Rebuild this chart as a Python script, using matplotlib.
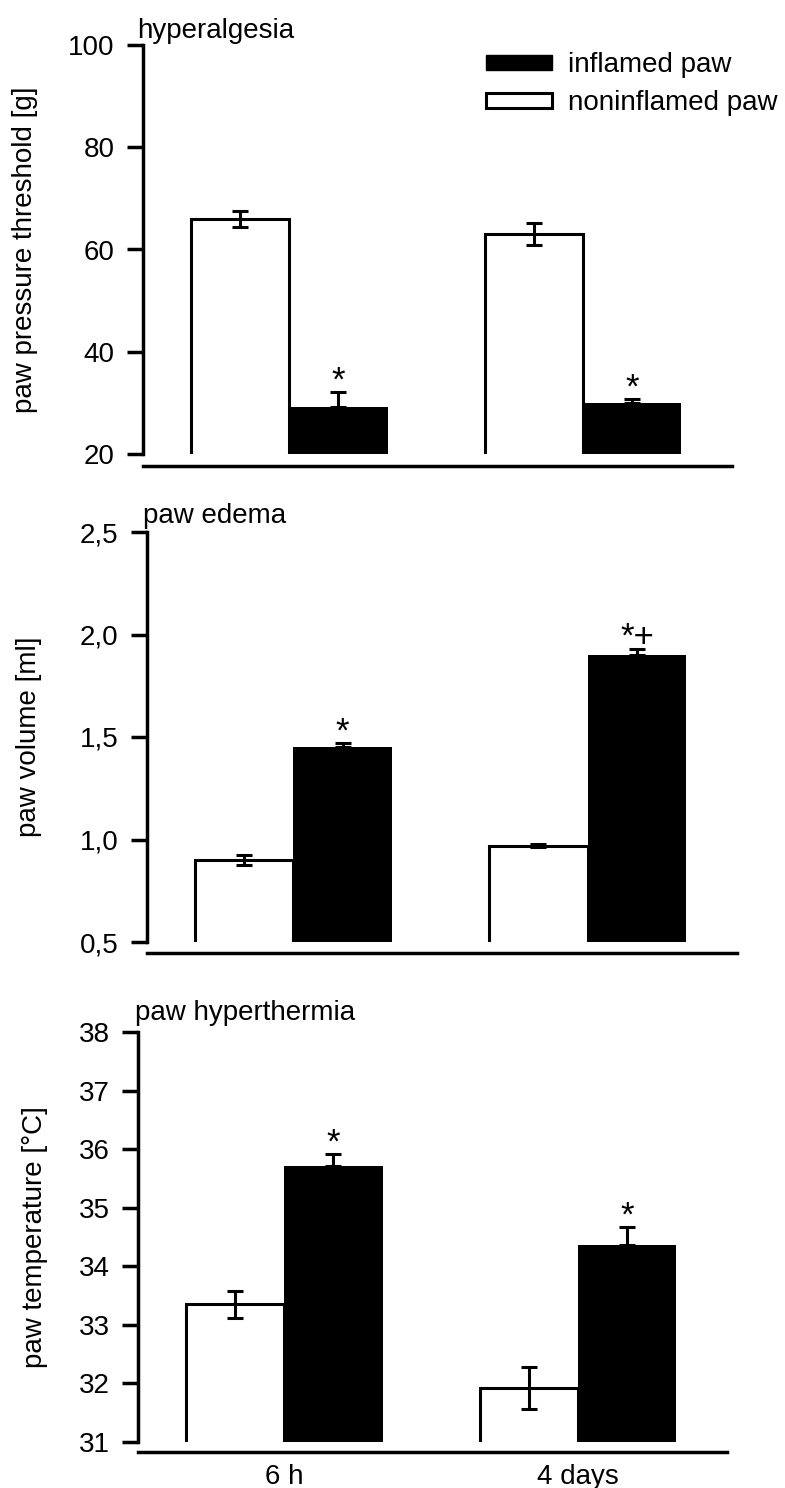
import numpy as np
import matplotlib
matplotlib.use('Agg')
import matplotlib.pyplot as plt
from matplotlib.patches import Patch

plt.rcParams['font.family'] = ['Liberation Sans', 'DejaVu Sans']
plt.rcParams['font.size'] = 20

# data
groups = ['6 h', '4 days']

hyper_non = [66.0, 63.0]
hyper_non_err = [1.6, 2.2]
hyper_inf = [29.2, 30.0]
hyper_inf_err = [3.0, 0.8]
hyper_marks = ['*', '*']

edema_non = [0.90, 0.97]
edema_non_err = [0.025, 0.008]
edema_inf = [1.45, 1.90]
edema_inf_err = [0.022, 0.03]
edema_marks = ['*', '*+']

temp_non = [33.35, 31.92]
temp_non_err = [0.23, 0.36]
temp_inf = [35.72, 34.36]
temp_inf_err = [0.20, 0.31]
temp_marks = ['*', '*']

W, H = 785, 1488
LW = 2.2


def px_axes(left, top, right, bottom):
    return [left / W, 1 - bottom / H, (right - left) / W, (bottom - top) / H]


def draw_panel(ax, non, non_err, inf, inf_err, marks, ylim, yticks, yticklabels,
               ylabel, title, outward, label_x, title_pos):
    x = np.arange(len(groups))
    w = 0.335
    ymin = ylim[0]
    xn = x - w / 2
    xi = x + w / 2

    # noninflamed: white bars, open at the bottom
    ax.bar(xn, np.array(non) - ymin, bottom=ymin, width=w, color='white',
           edgecolor='none', zorder=2)
    for xc, v in zip(xn, non):
        ax.plot([xc - w / 2, xc - w / 2, xc + w / 2, xc + w / 2], [ymin, v, v, ymin],
                color='black', lw=LW, solid_joinstyle='miter', zorder=3)
    # inflamed: black bars
    ax.bar(xi, np.array(inf) - ymin, bottom=ymin, width=w, color='black',
           edgecolor='none', zorder=2)

    ax.errorbar(xn, non, yerr=non_err, fmt='none', ecolor='black', elinewidth=LW,
                capsize=6, capthick=LW, zorder=4)
    ax.errorbar(xi, inf, yerr=[np.zeros(len(inf)), inf_err], fmt='none', ecolor='black',
                elinewidth=LW, capsize=6, capthick=LW, zorder=4)

    for xc, v, e, m in zip(xi, inf, inf_err, marks):
        ax.annotate(m, (xc, v + e), xytext=(0, 1), textcoords='offset points',
                    ha='center', va='baseline', fontsize=25)

    ax.set_xlim(-0.497, 1.507)
    ax.set_ylim(*ylim)
    ax.set_yticks(yticks)
    ax.set_yticklabels(yticklabels)
    ax.set_ylabel(ylabel, fontsize=20)
    ax.yaxis.set_label_coords(label_x, 0.5)

    for s in ['top', 'right']:
        ax.spines[s].set_visible(False)
    ax.spines['left'].set_linewidth(2.5)
    ax.spines['bottom'].set_linewidth(2.5)
    ax.spines['bottom'].set_position(('outward', outward))
    ax.tick_params(axis='y', direction='out', length=11.5, width=2.5, pad=9, labelsize=20)
    ax.tick_params(axis='x', length=0, pad=9, labelsize=20)
    ax.set_xticks([])
    ax.text(title_pos[0], title_pos[1], title, transform=ax.transAxes,
            ha='left', va='baseline', fontsize=20)
    return x


fig = plt.figure(figsize=(W / 100, H / 100), dpi=100)

ax1 = fig.add_axes(px_axes(143, 45, 732, 454))
draw_panel(ax1, hyper_non, hyper_non_err, hyper_inf, hyper_inf_err, hyper_marks,
           (20, 100), [20, 40, 60, 80, 100], ['20', '40', '60', '80', '100'],
           'paw pressure threshold [g]', 'hyperalgesia', 8.6, -0.178, (-0.01, 1.017))
handles = [Patch(facecolor='black', edgecolor='black', label='inflamed paw'),
           Patch(facecolor='white', edgecolor='black', linewidth=LW, label='noninflamed paw')]
ax1.legend(handles=handles, loc='upper left', bbox_to_anchor=(0.582, 0.982), frameon=False,
           handlelength=2.4, handleheight=0.5, handletextpad=0.55, labelspacing=0.43,
           borderpad=0, borderaxespad=0, fontsize=20)

ax2 = fig.add_axes(px_axes(147, 532, 737, 942))
draw_panel(ax2, edema_non, edema_non_err, edema_inf, edema_inf_err, edema_marks,
           (0.5, 2.5), [0.5, 1.0, 1.5, 2.0, 2.5], ['0,5', '1,0', '1,5', '2,0', '2,5'],
           'paw volume [ml]', 'paw edema', 8.0, -0.178, (-0.007, 1.022))

ax3 = fig.add_axes(px_axes(138, 1032, 727, 1442))
x = draw_panel(ax3, temp_non, temp_non_err, temp_inf, temp_inf_err, temp_marks,
               (31, 38), list(range(31, 39)), [str(t) for t in range(31, 39)],
               'paw temperature [°C]', 'paw hyperthermia', 7.2, -0.153, (-0.005, 1.029))
ax3.set_xticks(x)
ax3.set_xticklabels(groups)

fig.savefig('out.png', dpi=100)
